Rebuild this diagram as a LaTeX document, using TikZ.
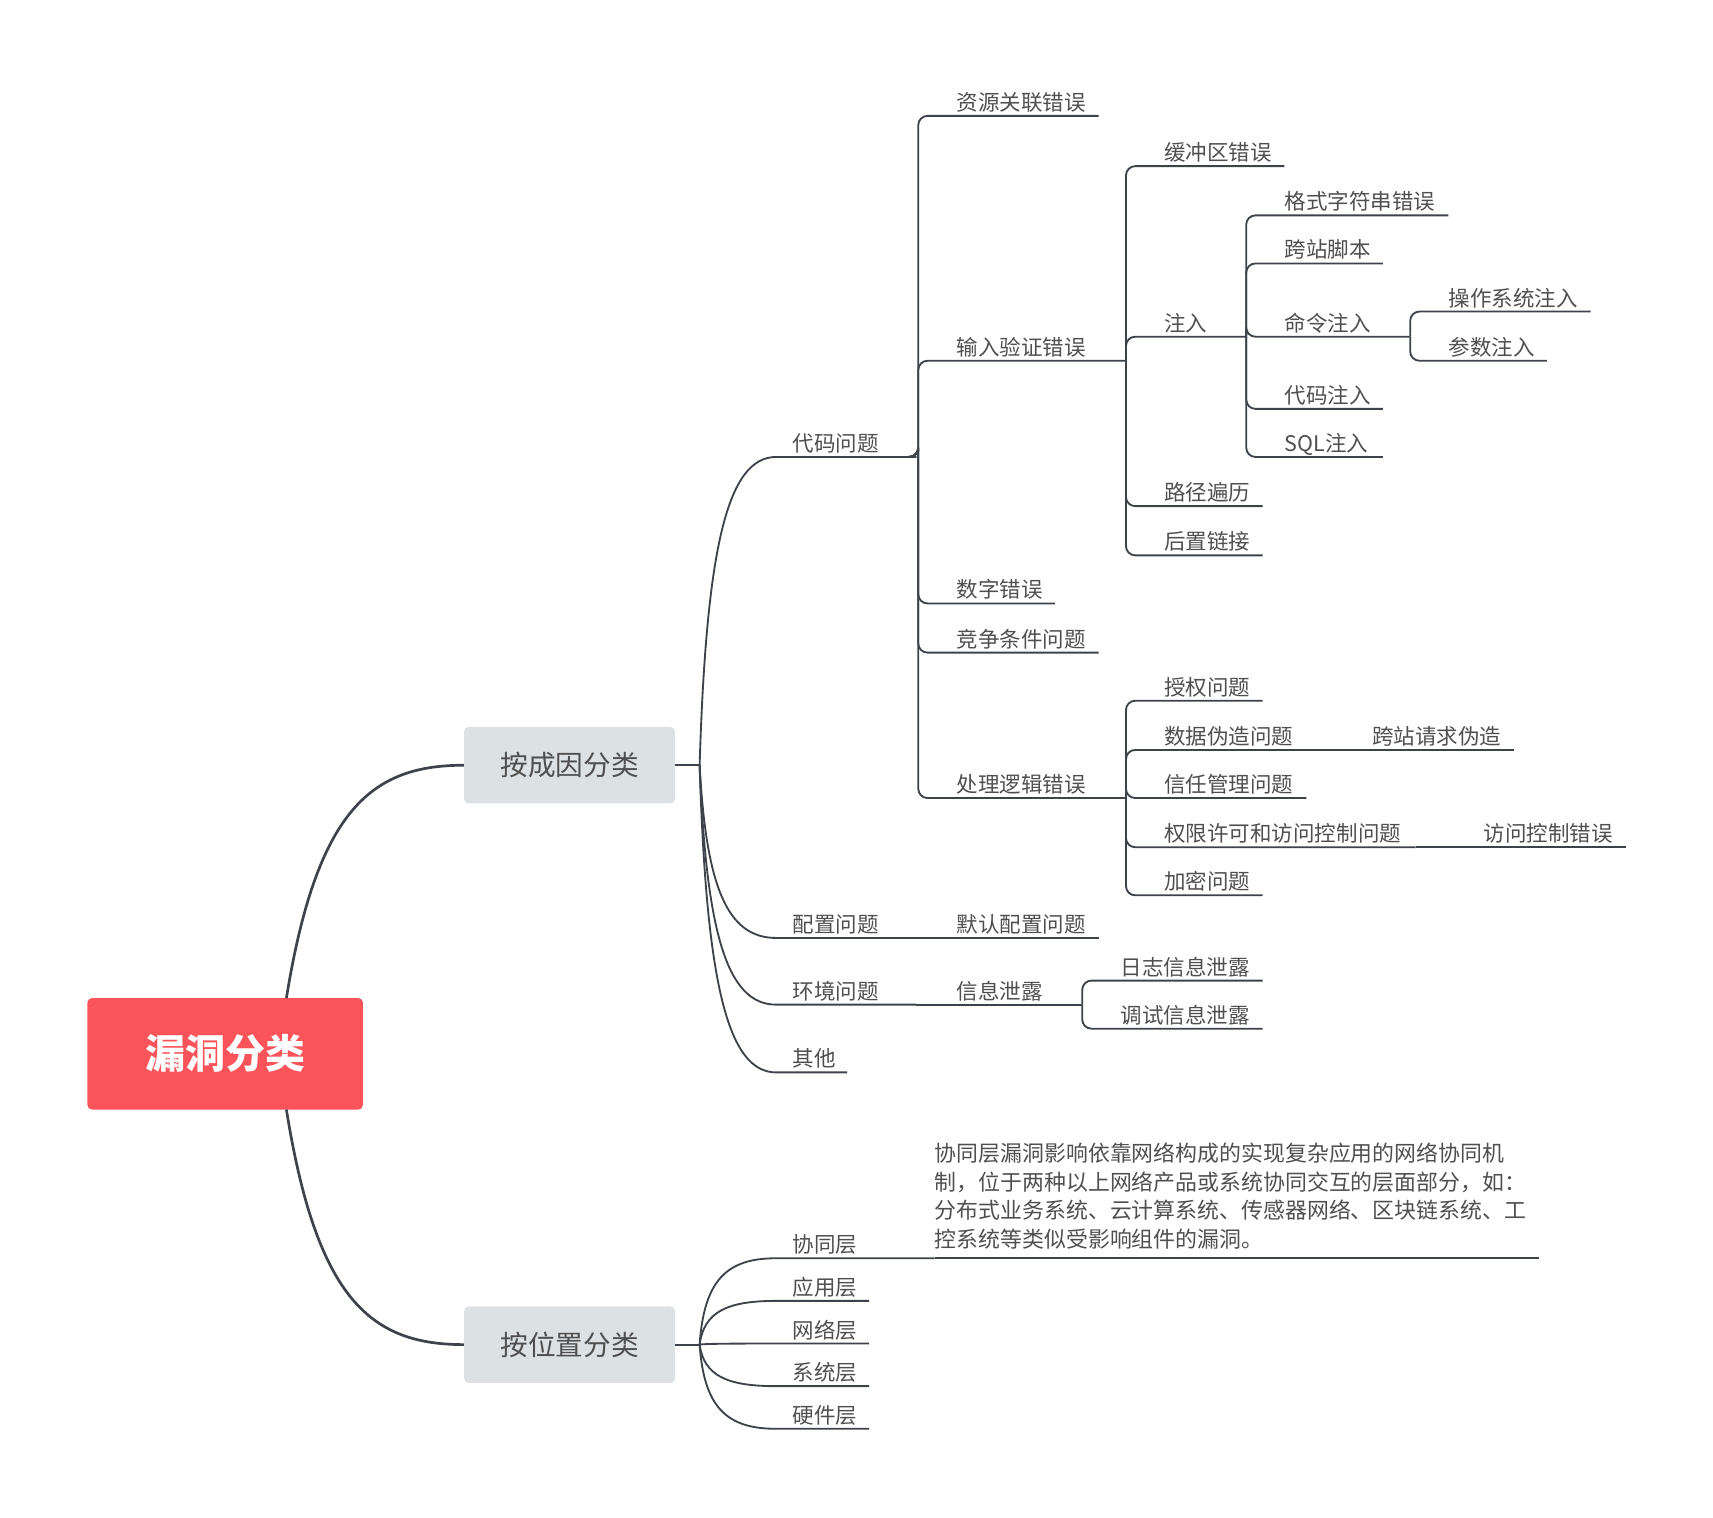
\documentclass[tikz,border=0pt]{standalone}
\usepackage{fontspec}
\setmainfont{Noto Sans CJK SC}
\definecolor{ln}{HTML}{3E434B}
\definecolor{tx}{HTML}{4F4F4F}
\definecolor{rootc}{HTML}{FA5359}
\definecolor{l1c}{HTML}{DCE2E3}
\begin{document}
\begin{tikzpicture}[x=0.05cm,y=-0.05cm,
 leaf/.style={inner sep=0pt,anchor=base west,text=tx,font=\fontsize{28}{34}\selectfont},
 br/.style={draw=ln,line width=2.4pt,rounded corners=12pt},
 cv/.style={draw=ln,line width=2.4pt},
 l1/.style={fill=l1c,rounded corners=6pt,minimum width=193*0.05cm,minimum height=70*0.05cm,text=tx,font=\fontsize{36}{40}\selectfont}]
\useasboundingbox (0,0) rectangle (1567,1388);
\newcommand{\lf}[5]{\node[leaf] (#1) at (#2,#3-5) {#5}; \coordinate (#1-e) at (#4,#3);}
% root
\node[fill=rootc,rounded corners=6pt,minimum width=252*0.05cm,minimum height=102*0.05cm,text=white,font=\fontsize{52}{56}\selectfont\bfseries] (root) at (206,964) {漏洞分类};
\node[l1] (a) at (521,700) {按成因分类};
\node[l1] (b) at (521,1230) {按位置分类};
\draw[draw=ln,line width=3.5pt] (262,913) .. controls (290,740) and (340,700) .. (a.west);
\draw[draw=ln,line width=3.5pt] (262,1015) .. controls (290,1190) and (340,1230) .. (b.west);
% level 2 under a
\lf{dm}{725}{418}{838}{代码问题}
\lf{pz}{725}{858}{838}{配置问题}
\lf{hj}{725}{919}{838}{环境问题}
\lf{qt}{725}{981}{775}{其他}
\coordinate (a-o) at (640,700);
\draw[cv] (a.east) -- (a-o);
\foreach \n/\y in {dm/418,pz/858,hj/919,qt/981}{
 \draw[cv] (a-o) .. controls (646,\y+0.3*700-0.3*\y) and (665,\y) .. (710,\y) -- (\n-e);
}
% 代码问题 children
\lf{zy}{875}{106}{1005}{资源关联错误}
\lf{sr}{875}{330}{1030}{输入验证错误}
\lf{sz}{875}{552}{965}{数字错误}
\lf{jz}{875}{597}{1005}{竞争条件问题}
\lf{cl}{875}{730}{1030}{处理逻辑错误}
\coordinate (dm-s) at (838,418);
\foreach \n in {zy,sr,sz,jz,cl}{\draw[br] (dm-s) -| (840,418) |- (\n-e);}
% 输入验证错误 children
\lf{hc}{1065}{152}{1175}{缓冲区错误}
\lf{zr}{1065}{308}{1140}{注入}
\lf{lj}{1065}{463}{1155}{路径遍历}
\lf{hz}{1065}{508}{1155}{后置链接}
\coordinate (sr-s) at (1030,330);
\foreach \n in {hc,zr,lj,hz}{\draw[br] (sr-s) |- (\n-e);}
% 注入 children
\lf{gs}{1175}{197}{1325}{格式字符串错误}
\lf{kz}{1175}{241}{1265}{跨站脚本}
\lf{ml}{1175}{308}{1290}{命令注入}
\lf{dz}{1175}{374}{1265}{代码注入}
\lf{sq}{1175}{418}{1265}{SQL注入}
\coordinate (zr-s) at (1140,308);
\foreach \n in {gs,kz,ml,dz,sq}{\draw[br] (zr-s) |- (\n-e);}
% 命令注入 children
\lf{cz}{1325}{285}{1455}{操作系统注入}
\lf{cs}{1325}{330}{1415}{参数注入}
\coordinate (ml-s) at (1290,308);
\foreach \n in {cz,cs}{\draw[br] (ml-s) |- (\n-e);}
% 处理逻辑错误 children
\lf{sq2}{1065}{641}{1155}{授权问题}
\lf{wz}{1065}{686}{1195}{数据伪造问题}
\lf{xr}{1065}{730}{1195}{信任管理问题}
\lf{qx}{1065}{775}{1295}{权限许可和访问控制问题}
\lf{jm}{1065}{819}{1155}{加密问题}
\coordinate (cl-s) at (1030,730);
\foreach \n in {sq2,wz,xr,qx,jm}{\draw[br] (cl-s) |- (\n-e);}
\lf{kq}{1255}{686}{1385}{跨站请求伪造}
\draw[cv] (wz-e) -- (kq-e);
\lf{fw}{1357}{775}{1487}{访问控制错误}
\draw[cv] (qx-e) -- (fw-e);
% 配置 / 环境
\lf{mr}{875}{858}{1005}{默认配置问题}
\draw[cv] (pz-e) -- (mr-e);
\lf{xx}{875}{919}{990}{信息泄露}
\draw[cv] (hj-e) -- (xx-e);
\lf{rz}{1025}{897}{1155}{日志信息泄露}
\lf{ts}{1025}{941}{1155}{调试信息泄露}
\foreach \n in {rz,ts}{\draw[br] (xx-e) |- (\n-e);}
% 按位置分类
\lf{xt}{725}{1151}{855}{协同层}
\lf{yy}{725}{1190}{795}{应用层}
\lf{wl}{725}{1229}{795}{网络层}
\lf{xs}{725}{1268}{795}{系统层}
\lf{yj}{725}{1307}{795}{硬件层}
\coordinate (b-o) at (640,1230);
\draw[cv] (b.east) -- (b-o);
\foreach \n/\y in {xt/1151,yy/1190,wl/1229,xs/1268,yj/1307}{
 \draw[cv] (b-o) .. controls (644,\y+0.25*1230-0.25*\y) and (665,\y) .. (710,\y) -- (\n-e);
}
\node[inner sep=0pt,anchor=north west,text=tx,align=left,font=\fontsize{28.5}{37.5}\selectfont] (desc) at (855,1045) {协同层漏洞影响依靠网络构成的实现复杂应用的网络协同机\\制，位于两种以上网络产品或系统协同交互的层面部分，如：\\分布式业务系统、云计算系统、传感器网络、区块链系统、工\\控系统等类似受影响组件的漏洞。};
\coordinate (desc-e) at (1408,1151);
\draw[cv] (xt-e) -- (desc-e);
\end{tikzpicture}
\end{document}
